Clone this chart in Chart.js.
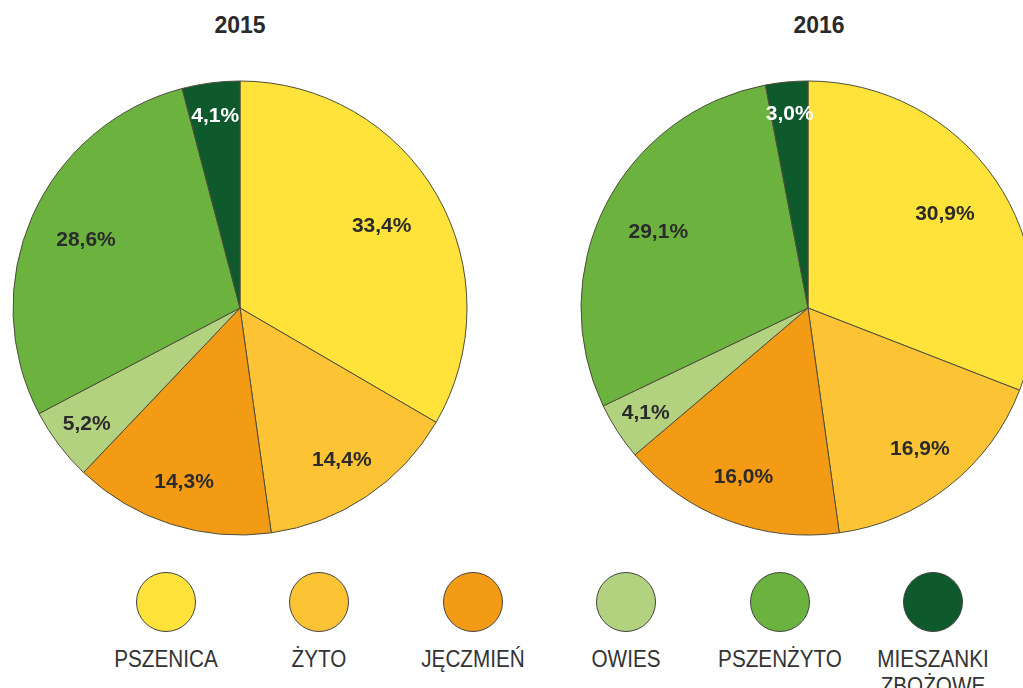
<!DOCTYPE html>
<html>
<head>
<meta charset="utf-8">
<script src="https://cdn.jsdelivr.net/npm/chart.js@4"></script>
<style>
    html, body { margin: 0; padding: 0; background: #fff; }
    body { width: 1023px; height: 688px; overflow: hidden; position: relative; font-family: "Liberation Sans", Arial, sans-serif; }
    .chart-title { position: absolute; top: 12px; width: 120px; text-align: center; font-weight: bold; font-size: 23px; color: #2a2a2a; }
    .pie { position: absolute; top: 68px; }
    .legend-item { position: absolute; top: 572px; width: 150px; text-align: center; }
    .legend-dot { width: 58px; height: 58px; border-radius: 50%; border: 1.5px solid #444; margin: 0 auto; }
    .legend-label { margin-top: 14px; font-size: 23px; line-height: 27px; color: #333; transform: scaleX(0.9); }
</style>
</head>
<body>
<div class="chart-title" style="left:180px">2015</div>
<div class="chart-title" style="left:759px">2016</div>
<canvas id="pie2015" class="pie" width="480" height="480" style="left:0px"></canvas>
<canvas id="pie2016" class="pie" width="480" height="480" style="left:568px"></canvas>
<div id="legend"></div>
<script>
// categories and shares (%)
const categories = ["PSZENICA", "ŻYTO", "JĘCZMIEŃ", "OWIES", "PSZENŻYTO", "MIESZANKI\nZBOŻOWE"];
const values2015 = [33.4, 14.4, 14.3, 5.2, 28.6, 4.1];
const values2016 = [30.9, 16.9, 16.0, 4.1, 29.1, 3.0];
const years = ["2015", "2016"];

const sliceColors = ["#FFE23A", "#FCC434", "#F39B14", "#B3D27F", "#6BB33E", "#0F5A2C"];
const labelColors = ["#2b2b2b", "#2b2b2b", "#2b2b2b", "#2b2b2b", "#2b2b2b", "#ffffff"];

// percent labels inside the slices (small slices pushed outward)
const pctLabels = {
    id: "pctLabels",
    afterDatasetsDraw(chart) {
        const ctx = chart.ctx;
        const ds = chart.data.datasets[0];
        const meta = chart.getDatasetMeta(0);
        ctx.save();
        ctx.font = "bold 21px 'Liberation Sans', Arial, sans-serif";
        ctx.textAlign = "center";
        ctx.textBaseline = "middle";
        meta.data.forEach((arc, i) => {
            const p = arc.getProps(["x", "y", "startAngle", "endAngle", "outerRadius"], true);
            const mid = (p.startAngle + p.endAngle) / 2;
            const v = ds.data[i];
            const r = p.outerRadius * (0.87 - 0.0045 * v);
            ctx.fillStyle = labelColors[i];
            ctx.fillText(v.toFixed(1).replace(".", ",") + "%", p.x + Math.cos(mid) * r, p.y + Math.sin(mid) * r);
        });
        ctx.restore();
    }
};

function makePie(id, values) {
    return new Chart(document.getElementById(id), {
        type: "pie",
        data: {
            labels: categories,
            datasets: [{
                data: values,
                backgroundColor: sliceColors,
                borderColor: "#4d4d3a",
                borderWidth: 1
            }]
        },
        options: {
            responsive: false,
            animation: false,
            radius: 227,
            layout: { padding: 0 },
            plugins: {
                legend: { display: false },
                tooltip: { enabled: false }
            }
        },
        plugins: [pctLabels]
    });
}

makePie("pie2015", values2015);
makePie("pie2016", values2016);

// legend row under both pies
const legend = document.getElementById("legend");
categories.forEach((c, i) => {
    const item = document.createElement("div");
    item.className = "legend-item";
    item.style.left = (166 + i * 153.4 - 75) + "px";
    item.innerHTML = `<div class="legend-dot" style="background:${sliceColors[i]}"></div>
        <div class="legend-label">${c.replace("\n", "<br>")}</div>`;
    legend.appendChild(item);
});
</script>
</body>
</html>
